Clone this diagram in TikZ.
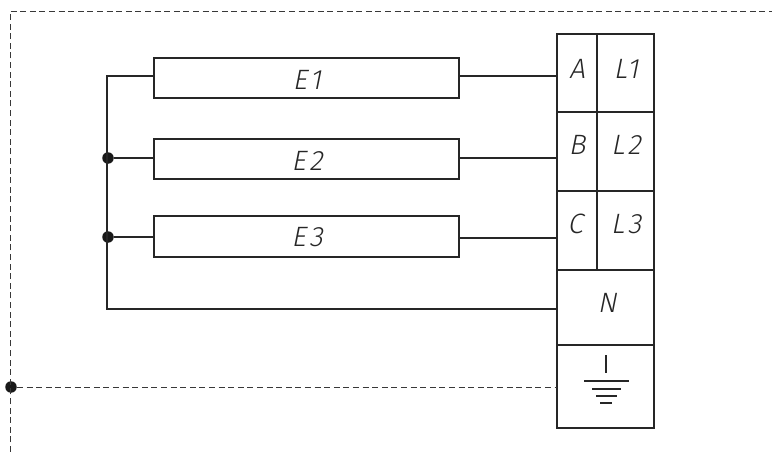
\documentclass[tikz,border=0pt]{standalone}
\usepackage{fontspec}
\newfontfamily\drawfont[LetterSpace=12,FakeSlant=0.2]{Fira Sans Light}
\tikzset{
  wire/.style={draw=black!85,line width=1.5pt},
  frameline/.style={draw=black!78,line width=0.9pt,dash pattern=on 6pt off 3.6pt},
  cell/.style={draw=black!85,line width=1.5pt,rectangle,inner sep=0pt,outer sep=0pt},
  label/.style={font=\fontsize{28}{28}\selectfont\drawfont,text=black!85,inner sep=0pt},
  junction/.style={circle,fill=black!90,inner sep=0pt,minimum size=11.5pt},
  earthline/.style={draw=black!85,line width=1.5pt}
}
\begin{document}
\begin{tikzpicture}[x=1pt,y=-1pt]
\useasboundingbox (0,0) rectangle (772,452);
% heaters
\node[cell,minimum width=305pt,minimum height=40pt] (E1) at (306.5,78) {};
\node[cell,minimum width=305pt,minimum height=40pt] (E2) at (306.5,159) {};
\node[cell,minimum width=305pt,minimum height=41pt] (E3) at (306.5,236.5) {};
\node[label] at (307,80) {E1};
\node[label] at (307,161) {E2};
\node[label] at (307,237) {E3};
% terminal block
\node[cell,minimum width=40pt,minimum height=78pt] (A) at (577,73) {};
\node[cell,minimum width=57pt,minimum height=78pt] (L1) at (625.5,73) {};
\node[cell,minimum width=40pt,minimum height=79pt] (B) at (577,151.5) {};
\node[cell,minimum width=57pt,minimum height=79pt] (L2) at (625.5,151.5) {};
\node[cell,minimum width=40pt,minimum height=79pt] (C) at (577,230.5) {};
\node[cell,minimum width=57pt,minimum height=79pt] (L3) at (625.5,230.5) {};
\node[cell,minimum width=97pt,minimum height=75pt] (N) at (605.5,307.5) {};
\node[cell,minimum width=97pt,minimum height=83pt] (PE) at (605.5,386.5) {};
\node[label] at (577,69) {A};
\node[label] at (626,69) {L1};
\node[label] at (577,145) {B};
\node[label] at (626,145) {L2};
\node[label] at (575,224) {C};
\node[label] at (626,224) {L3};
\node[label] at (607,303) {N};
% wire coordinates
\coordinate (e1w) at (154,76);
\coordinate (e1e) at (459,76);
\coordinate (e2w) at (154,158);
\coordinate (e2e) at (459,158);
\coordinate (e3w) at (154,237);
\coordinate (e3e) at (459,238);
\coordinate (ta) at (557,76);
\coordinate (tb) at (557,158);
\coordinate (tc) at (557,238);
\coordinate (tn) at (557,309);
\coordinate (tg) at (557,387);
\coordinate (bus1) at (107,76);
\coordinate (bus4) at (107,309);
\coordinate (corner) at (10,11);
\coordinate (frameE) at (772,11);
\coordinate (frameS) at (10,452);
\node[junction] (j2) at (108,158) {};
\node[junction] (j3) at (108,237) {};
\node[junction] (jg) at (11,387) {};
\draw[wire] (e1w) -- (bus1) -- (bus4) -- (tn);
\draw[wire] (j2) -- (e2w);
\draw[wire] (j3) -- (e3w);
\draw[wire] (e1e) -- (ta);
\draw[wire] (e2e) -- (tb);
\draw[wire] (e3e) -- (tc);
\draw[frameline] (frameS) -- (corner) -- (frameE);
\draw[frameline] (jg) -- (tg);
% earth symbol
\draw[earthline] (606,355) -- (606,373);
\draw[earthline] (584,381) -- (629,381);
\draw[earthline] (592,389) -- (621,389);
\draw[earthline] (596,396) -- (617,396);
\draw[earthline] (600,403) -- (612,403);
\end{tikzpicture}
\end{document}
